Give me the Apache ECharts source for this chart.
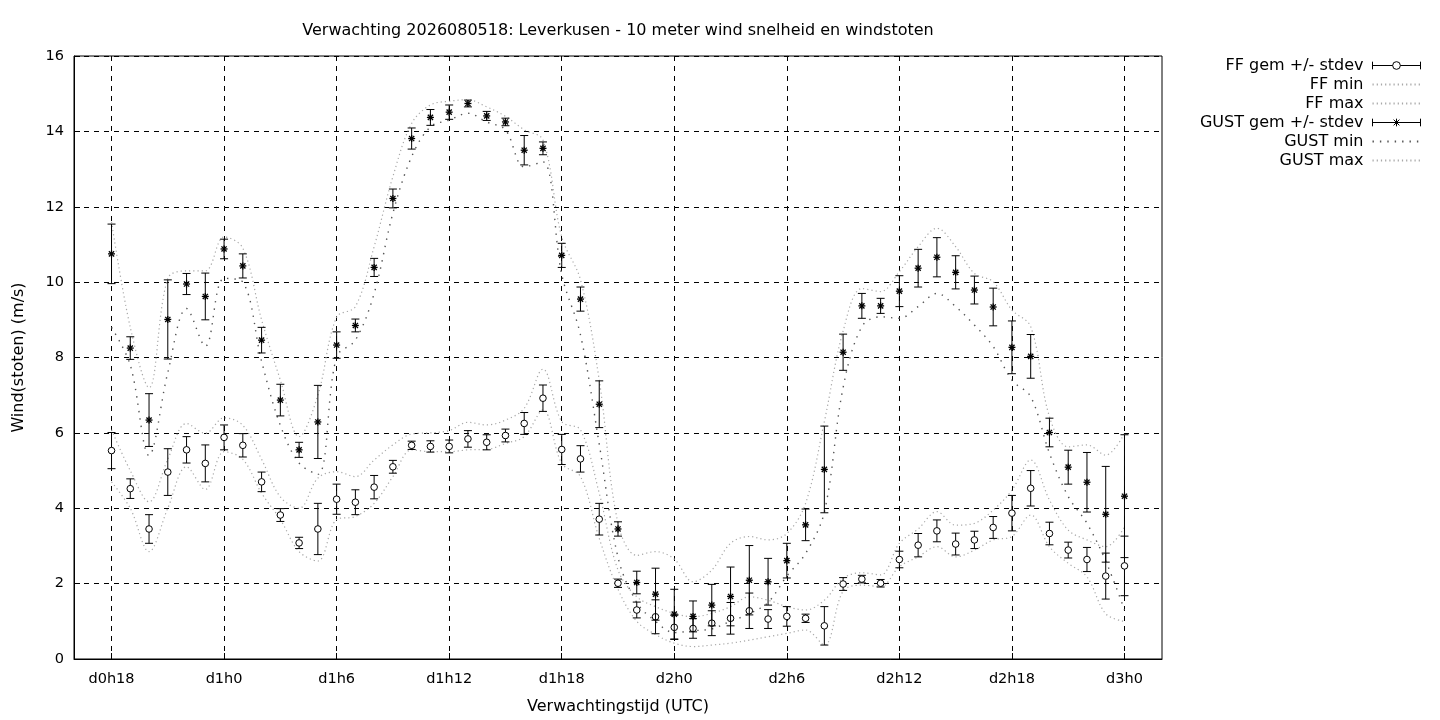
<!DOCTYPE html>
<html>
<head>
<meta charset="utf-8">
<title>Verwachting 2026080518: Leverkusen</title>
<script src="https://cdn.jsdelivr.net/npm/echarts@6/dist/echarts.min.js"></script>
<style>
html,body{margin:0;padding:0;background:#fff;}
#chart{width:1440px;height:720px;}
</style>
</head>
<body>
<div id="chart"></div>
<script>
// x-as: elk uur van d0h16 t/m d3h2 (rand links en rechts hoort er bij)
var times = ['d0h16','d0h17','d0h18','d0h19','d0h20','d0h21','d0h22','d0h23',
    'd1h0','d1h1','d1h2','d1h3','d1h4','d1h5','d1h6','d1h7','d1h8','d1h9','d1h10','d1h11',
    'd1h12','d1h13','d1h14','d1h15','d1h16','d1h17','d1h18','d1h19','d1h20','d1h21','d1h22','d1h23',
    'd2h0','d2h1','d2h2','d2h3','d2h4','d2h5','d2h6','d2h7','d2h8','d2h9','d2h10','d2h11',
    'd2h12','d2h13','d2h14','d2h15','d2h16','d2h17','d2h18','d2h19','d2h20','d2h21','d2h22','d2h23',
    'd3h0','d3h1','d3h2'];
// de verwachting begint bij d0h18 (index 2)
var firstIdx = 2;
var yTicks = [0, 2, 4, 6, 8, 10, 12, 14, 16];

// gemiddelde wind en stdev
var ffMean = [5.53,4.52,3.45,4.96,5.55,5.19,5.88,5.67,4.70,3.82,3.08,3.45,
    4.24,4.16,4.56,5.10,5.67,5.64,5.64,5.84,5.75,5.93,6.25,6.92,
    5.56,5.31,3.71,2.01,1.30,1.12,0.84,0.81,0.95,1.08,1.28,1.06,
    1.13,1.08,0.88,1.99,2.12,2.01,2.64,3.02,3.40,3.05,3.16,3.49,
    3.87,4.53,3.33,2.89,2.64,2.20,2.47];
var ffSd = [0.48,0.26,0.38,0.62,0.35,0.49,0.33,0.31,0.26,0.17,0.15,0.68,
    0.40,0.33,0.31,0.17,0.11,0.15,0.17,0.22,0.20,0.17,0.29,0.35,
    0.40,0.35,0.42,0.11,0.21,0.45,0.32,0.26,0.33,0.42,0.47,0.25,
    0.26,0.11,0.51,0.17,0.10,0.10,0.22,0.31,0.29,0.29,0.23,0.29,
    0.47,0.47,0.30,0.21,0.32,0.61,0.79];
var ffMin = [4.70,4.00,2.85,4.00,5.10,4.50,5.50,5.30,4.40,3.70,2.85,2.60,
    3.70,3.78,4.13,4.84,5.55,5.50,5.50,5.55,5.56,5.72,5.90,6.61,
    5.19,4.84,3.20,1.85,1.00,0.65,0.42,0.33,0.37,0.42,0.50,0.59,
    0.68,0.77,0.37,1.80,1.96,1.92,2.45,2.71,2.98,2.71,2.89,3.16,
    3.25,3.82,2.98,2.54,2.18,1.20,1.00];
var ffMax = [6.08,5.00,4.17,5.30,6.25,5.99,6.40,6.20,5.30,4.30,4.00,4.80,
    4.97,4.84,5.28,5.68,5.97,6.00,6.06,6.28,6.21,6.34,6.65,7.69,
    6.30,6.08,4.40,2.36,1.65,1.39,1.21,1.12,1.21,1.39,1.65,1.56,
    1.39,1.30,1.56,2.14,2.29,2.23,3.07,3.45,3.91,3.55,3.60,3.95,
    4.48,5.28,4.22,3.42,3.16,2.98,3.50];

// windstoten en stdev
var gustMean = [10.75,8.25,6.34,9.01,9.95,9.62,10.88,10.43,8.46,6.87,5.55,6.29,
    8.33,8.85,10.39,12.22,13.81,14.37,14.51,14.74,14.41,14.25,13.50,13.55,
    10.71,9.55,6.76,3.45,2.03,1.72,1.19,1.13,1.43,1.66,2.09,2.05,
    2.61,3.56,5.03,8.14,9.37,9.37,9.76,10.37,10.66,10.26,9.79,9.34,
    8.27,8.03,6.01,5.09,4.69,3.84,4.32];
var gustSd = [0.79,0.30,0.70,1.05,0.28,0.62,0.26,0.32,0.34,0.42,0.20,0.97,
    0.35,0.17,0.24,0.25,0.28,0.21,0.19,0.09,0.12,0.10,0.39,0.17,
    0.32,0.32,0.62,0.19,0.30,0.69,0.66,0.41,0.55,0.78,0.92,0.62,
    0.46,0.42,1.15,0.48,0.33,0.20,0.41,0.50,0.52,0.44,0.37,0.50,
    0.70,0.58,0.38,0.45,0.79,1.27,1.63];
var gustMin = [8.80,7.80,5.40,7.60,9.30,8.30,10.10,10.00,7.90,6.20,5.20,4.90,
    8.02,8.46,9.70,11.83,13.33,14.12,14.30,14.48,14.25,14.04,13.06,13.19,
    10.20,8.60,5.70,2.70,1.50,1.00,0.70,0.75,0.80,1.00,1.20,1.50,
    2.20,2.80,3.90,7.20,8.82,9.08,9.04,9.35,9.70,9.35,8.86,8.29,
    7.40,6.96,5.46,4.31,3.60,2.60,1.30];
var gustMax = [11.60,8.80,7.20,10.10,10.30,10.30,11.20,10.90,9.00,7.40,5.90,7.00,
    9.07,9.35,10.94,12.80,14.21,14.70,14.80,14.84,14.65,14.40,14.04,13.77,
    11.20,10.06,7.40,3.60,2.75,2.85,2.65,2.05,2.36,3.07,3.25,3.16,
    3.33,4.13,6.30,8.70,9.83,9.75,10.28,10.94,11.43,10.94,10.23,10.01,
    9.26,8.82,6.43,5.63,5.68,5.41,5.99];

var fontName = 'DejaVu Sans';

// alleen labels en rasterlijnen om de 6 uur
function sixHour(index, value){
    return /h(0|6|12|18)$/.test(value);
}

// reeks omzetten naar [tijd, waarde]
function pairs(arr){
    var out = [];
    for (var i = 0; i < arr.length; i++){
        out.push([times[i + firstIdx], arr[i]]);
    }
    return out;
}
function triples(mean, sd){
    var out = [];
    for (var i = 0; i < mean.length; i++){
        out.push([times[i + firstIdx], mean[i], sd[i]]);
    }
    return out;
}

// foutbalk met kapjes en een open rondje of sterretje
function errorBar(kind){
    return function(params, api){
        var x = api.value(0), m = api.value(1), s = api.value(2);
        var top = api.coord([x, m + s]);
        var mid = api.coord([x, m]);
        var bot = api.coord([x, m - s]);
        var w = 4;
        var st = {stroke: '#000', lineWidth: 1, fill: 'none'};
        var kids = [
            {type: 'line', shape: {x1: top[0], y1: top[1], x2: bot[0], y2: bot[1]}, style: st},
            {type: 'line', shape: {x1: top[0] - w, y1: top[1], x2: top[0] + w, y2: top[1]}, style: st},
            {type: 'line', shape: {x1: bot[0] - w, y1: bot[1], x2: bot[0] + w, y2: bot[1]}, style: st}
        ];
        if (kind == 'circle'){
            kids.push({type: 'circle', shape: {cx: mid[0], cy: mid[1], r: 3.3},
                style: {fill: '#fff', stroke: '#000', lineWidth: 1}});
        } else {
            var r = 3.5, d = 2.6;
            var bold = {stroke: '#000', lineWidth: 1.3};
            kids.push({type: 'line', shape: {x1: mid[0] - r, y1: mid[1], x2: mid[0] + r, y2: mid[1]}, style: bold});
            kids.push({type: 'line', shape: {x1: mid[0], y1: mid[1] - r, x2: mid[0], y2: mid[1] + r}, style: bold});
            kids.push({type: 'line', shape: {x1: mid[0] - d, y1: mid[1] - d, x2: mid[0] + d, y2: mid[1] + d}, style: bold});
            kids.push({type: 'line', shape: {x1: mid[0] - d, y1: mid[1] + d, x2: mid[0] + d, y2: mid[1] - d}, style: bold});
        }
        return {type: 'group', children: kids};
    };
}

function dotted(name, data, color, dash, width){
    return {
        name: name,
        type: 'line',
        data: pairs(data),
        smooth: 0.35,
        symbol: 'none',
        z: 2,
        itemStyle: {color: color},
        lineStyle: {color: color, width: width, type: dash},
        emphasis: {disabled: true}
    };
}

var ffIcon = 'path://M0,1L0,9M0,5L21,5M29,5L50,5M50,1L50,9M29,5A4,4,0,1,1,21,5A4,4,0,1,1,29,5';
var gustIcon = 'path://M0,1L0,9M0,5L50,5M50,1L50,9M22,2L28,8M22,8L28,2M25,1L25,9';
var iconStyle = {color: 'none', borderColor: '#000', borderWidth: 1};
// bij lijnen geen bolletje in de legenda
var noDot = {opacity: 0};

var mychart = echarts.init(document.getElementById('chart'));
var option = {
    backgroundColor: '#fff',
    animation: false,
    title: {
        text: 'Verwachting 2026080518: Leverkusen - 10 meter wind snelheid en windstoten',
        left: 618,
        top: 23,
        textAlign: 'center',
        padding: 0,
        textStyle: {fontFamily: fontName, fontSize: 16, fontWeight: 'normal', color: '#000'}
    },
    legend: {
        orient: 'vertical',
        align: 'right',
        right: 12,
        top: 51,
        itemWidth: 48,
        itemHeight: 8,
        itemGap: 0,
        selectedMode: false,
        textStyle: {fontFamily: fontName, fontSize: 16, color: '#000', lineHeight: 19, padding: [0, 4, 0, 0]},
        data: [
            {name: 'FF gem +/- stdev', icon: ffIcon, itemStyle: iconStyle},
            {name: 'FF min', itemStyle: noDot},
            {name: 'FF max', itemStyle: noDot},
            {name: 'GUST gem +/- stdev', icon: gustIcon, itemStyle: iconStyle},
            {name: 'GUST min', itemStyle: noDot},
            {name: 'GUST max', itemStyle: noDot}
        ]
    },
    grid: {
        left: 74, right: 278, top: 56, bottom: 61,
        show: true, borderColor: '#000', borderWidth: 1, backgroundColor: 'transparent'
    },
    xAxis: {
        type: 'category',
        data: times,
        boundaryGap: false,
        name: 'Verwachtingstijd (UTC)',
        nameLocation: 'middle',
        nameGap: 40,
        nameTextStyle: {fontFamily: fontName, fontSize: 16, color: '#000'},
        axisLine: {lineStyle: {color: '#000', width: 1}},
        axisTick: {inside: true, length: 6, interval: sixHour, lineStyle: {color: '#000'}},
        axisLabel: {interval: sixHour, margin: 13, fontFamily: fontName, fontSize: 14.5, color: '#000'},
        splitLine: {show: true, interval: sixHour, lineStyle: {color: '#000', width: 1, type: [5, 5]}}
    },
    yAxis: {
        type: 'value',
        min: yTicks[0],
        max: yTicks[yTicks.length - 1],
        interval: 2,
        name: 'Wind(stoten) (m/s)',
        nameLocation: 'middle',
        nameGap: 47,
        nameTextStyle: {fontFamily: fontName, fontSize: 16, color: '#000'},
        axisLine: {show: true, lineStyle: {color: '#000', width: 1}},
        axisTick: {show: true, inside: true, length: 6, lineStyle: {color: '#000'}},
        axisLabel: {margin: 10, fontFamily: fontName, fontSize: 14.5, color: '#000'},
        splitLine: {show: true, lineStyle: {color: '#000', width: 1, type: [5, 5]}}
    },
    series: [
        {
            name: 'FF gem +/- stdev',
            type: 'custom',
            renderItem: errorBar('circle'),
            data: triples(ffMean, ffSd),
            encode: {x: 0, y: [1]},
            z: 5
        },
        dotted('FF min', ffMin, '#a8a8a8', [1.2, 3], 1.2),
        dotted('FF max', ffMax, '#a8a8a8', [1.2, 3], 1.2),
        {
            name: 'GUST gem +/- stdev',
            type: 'custom',
            renderItem: errorBar('star'),
            data: triples(gustMean, gustSd),
            encode: {x: 0, y: [1]},
            z: 6
        },
        dotted('GUST min', gustMin, '#555555', [1.4, 6], 1.4),
        dotted('GUST max', gustMax, '#a8a8a8', [1.2, 3], 1.2)
    ]
};
mychart.setOption(option);
</script>
</body>
</html>
